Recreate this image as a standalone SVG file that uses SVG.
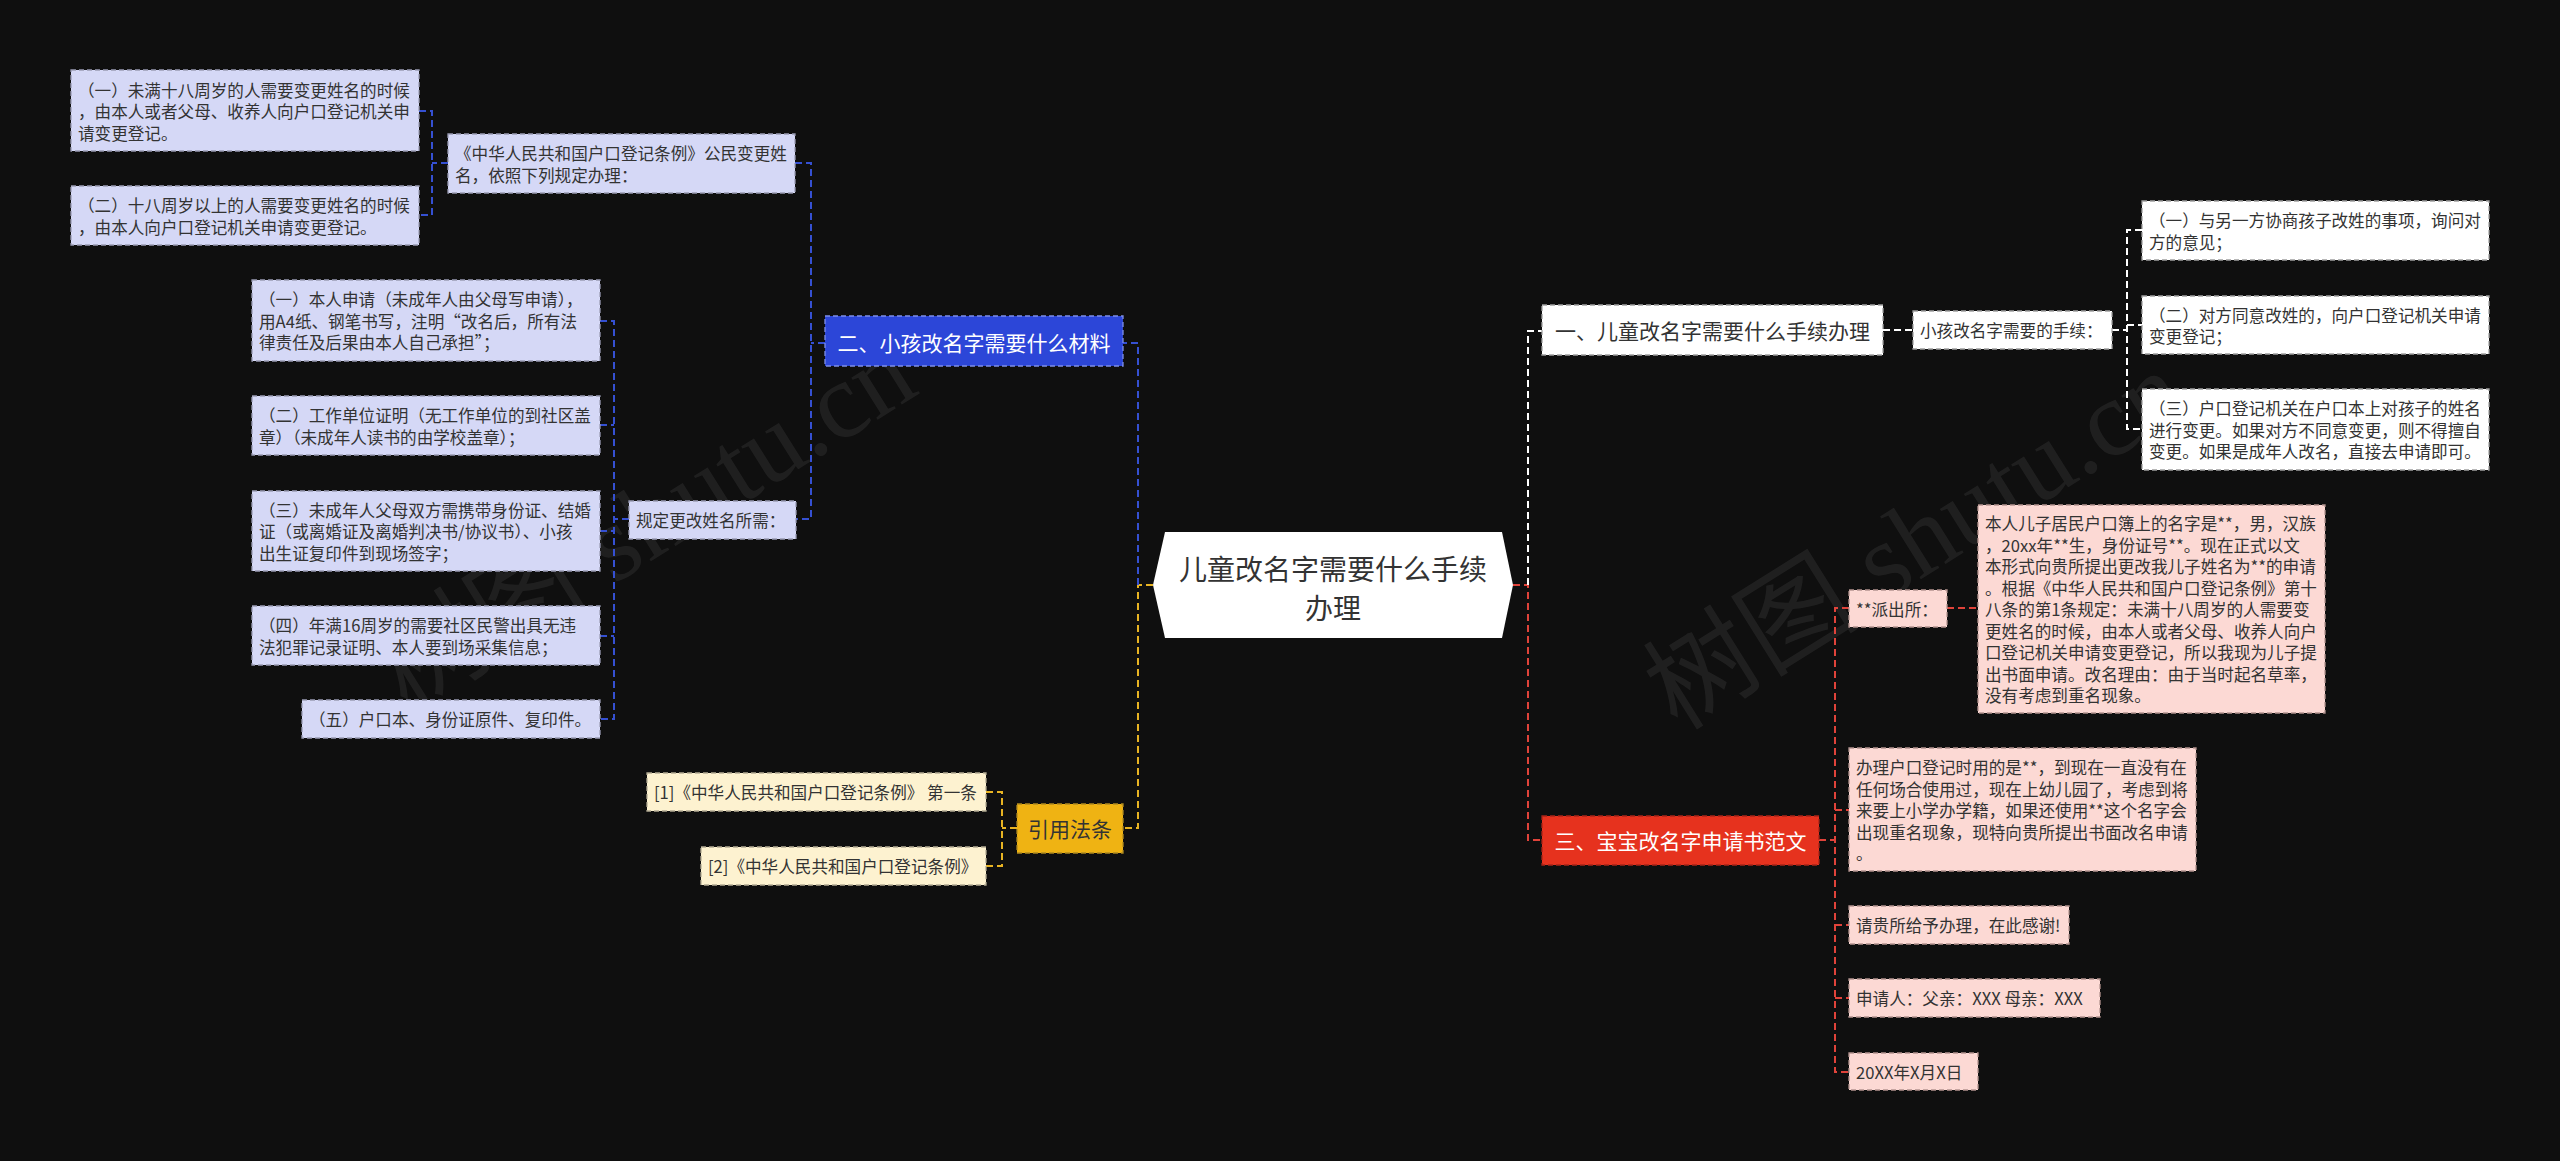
<svg xmlns="http://www.w3.org/2000/svg" width="2560" height="1161" viewBox="0 0 2560 1161">
<style>
text{font-family:"Noto Sans CJK SC","Noto Sans",sans-serif;}
.leaf{font-size:16.6px;fill:#333333;dominant-baseline:central;}
.l1{font-size:21px;dominant-baseline:central;text-anchor:middle;}
.lav{fill:#d5d8f6;stroke:#9a9cb4;stroke-width:1.3;stroke-dasharray:5 3;}
.wht{fill:#ffffff;stroke:#a0a0a0;stroke-width:1.3;stroke-dasharray:5 3;}
.pnk{fill:#fcd9d4;stroke:#b49490;stroke-width:1.3;stroke-dasharray:5 3;}
.crm{fill:#fdf2d0;stroke:#b4ac94;stroke-width:1.3;stroke-dasharray:5 3;}
.c{fill:none;stroke-width:2;stroke-dasharray:7 4;}
.cb{stroke:#3550d2;}
.cy{stroke:#e8b423;}
.cw{stroke:#ffffff;}
.cr{stroke:#e0433a;}
.wm{font-family:"Liberation Serif","Noto Sans CJK SC",serif;font-size:108px;fill:#ffffff;fill-opacity:0.07;text-anchor:middle;dominant-baseline:central;}
</style>
<rect width="2560" height="1161" fill="#0f0f0f"/>

<g id="watermarks">
<text class="wm" transform="translate(645,522) rotate(-32)">树图 shutu.cn</text>
<text class="wm" transform="translate(1915,540) rotate(-32)">树图 shutu.cn</text>
</g>

<g id="connectors">
<path class="c cy" d="M1153,585 H1138 V828 H1123"/>
<path class="c cb" d="M1138,585 V343 H1123"/>
<path class="c cb" d="M825,343 H811"/>
<path class="c cb" d="M795,163 H811 V519 H796"/>
<path class="c cb" d="M448,163 H432"/>
<path class="c cb" d="M419,111 H432 V215 H419"/>
<path class="c cb" d="M629,519 H614"/>
<path class="c cb" d="M600,321 H614 V719 H600 M600,425 H614 M600,531 H614 M600,636 H614"/>
<path class="c cy" d="M1017,828 H1002"/>
<path class="c cy" d="M986,792 H1002 V866 H986"/>
<path class="c cr" d="M1513,585 H1528 V840 H1542"/>
<path class="c cw" d="M1528,585 V331 H1542"/>
<path class="c cw" d="M1883,330 H1913"/>
<path class="c cw" d="M2112,330 H2127"/>
<path class="c cw" d="M2142,230 H2127 V429 H2142 M2127,325 H2142"/>
<path class="c cr" d="M1819,840 H1835"/>
<path class="c cr" d="M1849,608 H1835 V1072 H1849 M1835,810 H1849 M1835,925 H1849 M1835,998 H1849"/>
<path class="c cr" d="M1947,608 H1978"/>
</g>

<g id="root">
<polygon points="1153,585 1165,532 1502,532 1513,585 1502,638 1165,638" fill="#ffffff"/>
<text x="1333" y="568" font-size="28" fill="#333333" text-anchor="middle" dominant-baseline="central">儿童改名字需要什么手续</text>
<text x="1333" y="607" font-size="28" fill="#333333" text-anchor="middle" dominant-baseline="central">办理</text>
</g>

<g id="n-blue">
<rect x="825" y="316" width="298" height="50" fill="#2c46d8" stroke="#7d8fe8" stroke-width="1.3" stroke-dasharray="5 3"/>
<text class="l1" x="974" y="342" fill="#ffffff">二、小孩改名字需要什么材料</text>
</g>

<g id="n-law">
<rect class="lav" x="448" y="134" width="347" height="59"/>
<text class="leaf" x="455" y="153">《中华人民共和国户口登记条例》公民变更姓</text>
<text class="leaf" x="455" y="174.5">名，依照下列规定办理：</text>
</g>

<g id="n-law1">
<rect class="lav" x="71" y="70" width="348" height="81"/>
<text class="leaf" x="78" y="89.5">（一）未满十八周岁的人需要变更姓名的时候</text>
<text class="leaf" x="78" y="111">，由本人或者父母、收养人向户口登记机关申</text>
<text class="leaf" x="78" y="132.5">请变更登记。</text>
</g>

<g id="n-law2">
<rect class="lav" x="71" y="186" width="348" height="59"/>
<text class="leaf" x="78" y="205">（二）十八周岁以上的人需要变更姓名的时候</text>
<text class="leaf" x="78" y="226.5">，由本人向户口登记机关申请变更登记。</text>
</g>

<g id="n-req">
<rect class="lav" x="629" y="501" width="167" height="38"/>
<text class="leaf" x="636" y="520">规定更改姓名所需：</text>
</g>

<g id="n-req1">
<rect class="lav" x="252" y="280" width="348" height="81"/>
<text class="leaf" x="259" y="299">（一）本人申请（未成年人由父母写申请），</text>
<text class="leaf" x="259" y="320.5">用A4纸、钢笔书写，注明“改名后，所有法</text>
<text class="leaf" x="259" y="342">律责任及后果由本人自己承担”；</text>
</g>

<g id="n-req2">
<rect class="lav" x="252" y="396" width="348" height="59"/>
<text class="leaf" x="259" y="415">（二）工作单位证明（无工作单位的到社区盖</text>
<text class="leaf" x="259" y="436.5">章）（未成年人读书的由学校盖章）；</text>
</g>

<g id="n-req3">
<rect class="lav" x="252" y="491" width="348" height="80"/>
<text class="leaf" x="259" y="509.5">（三）未成年人父母双方需携带身份证、结婚</text>
<text class="leaf" x="259" y="531">证（或离婚证及离婚判决书/协议书）、小孩</text>
<text class="leaf" x="259" y="552.5">出生证复印件到现场签字；</text>
</g>

<g id="n-req4">
<rect class="lav" x="252" y="606" width="348" height="59"/>
<text class="leaf" x="259" y="625">（四）年满16周岁的需要社区民警出具无违</text>
<text class="leaf" x="259" y="646.5">法犯罪记录证明、本人要到场采集信息；</text>
</g>

<g id="n-req5">
<rect class="lav" x="302" y="700" width="298" height="38"/>
<text class="leaf" x="309" y="719">（五）户口本、身份证原件、复印件。</text>
</g>

<g id="n-cite">
<rect x="1017" y="804" width="106" height="49" fill="#efb313" stroke="#b08a20" stroke-width="1.3" stroke-dasharray="5 3"/>
<text class="l1" x="1070" y="828" fill="#333333">引用法条</text>
</g>

<g id="n-cite1">
<rect class="crm" x="647" y="773" width="339" height="38"/>
<text class="leaf" x="654" y="792">[1]《中华人民共和国户口登记条例》 第一条</text>
</g>

<g id="n-cite2">
<rect class="crm" x="701" y="847" width="285" height="38"/>
<text class="leaf" x="708" y="866">[2]《中华人民共和国户口登记条例》</text>
</g>

<g id="n-one">
<rect class="wht" x="1542" y="305" width="341" height="50"/>
<text class="l1" x="1712.5" y="330" fill="#333333">一、儿童改名字需要什么手续办理</text>
</g>

<g id="n-steps">
<rect class="wht" x="1913" y="311" width="199" height="38"/>
<text class="leaf" x="1920" y="330">小孩改名字需要的手续：</text>
</g>

<g id="n-step1">
<rect class="wht" x="2142" y="201" width="347" height="59"/>
<text class="leaf" x="2149" y="220">（一）与另一方协商孩子改姓的事项，询问对</text>
<text class="leaf" x="2149" y="241.5">方的意见；</text>
</g>

<g id="n-step2">
<rect class="wht" x="2142" y="296" width="347" height="58"/>
<text class="leaf" x="2149" y="314.5">（二）对方同意改姓的，向户口登记机关申请</text>
<text class="leaf" x="2149" y="336">变更登记；</text>
</g>

<g id="n-step3">
<rect class="wht" x="2142" y="389" width="347" height="81"/>
<text class="leaf" x="2149" y="408">（三）户口登记机关在户口本上对孩子的姓名</text>
<text class="leaf" x="2149" y="429.5">进行变更。如果对方不同意变更，则不得擅自</text>
<text class="leaf" x="2149" y="451">变更。如果是成年人改名，直接去申请即可。</text>
</g>

<g id="n-three">
<rect x="1542" y="816" width="277" height="49" fill="#e6321e" stroke="#a82418" stroke-width="1.3" stroke-dasharray="5 3"/>
<text class="l1" x="1680.5" y="840" fill="#ffffff">三、宝宝改名字申请书范文</text>
</g>

<g id="n-pcs">
<rect class="pnk" x="1849" y="590" width="98" height="37"/>
<text class="leaf" x="1856" y="608.5">**派出所：</text>
</g>

<g id="n-p1">
<rect class="pnk" x="1978" y="505" width="347" height="208"/>
<text class="leaf" x="1985" y="523">本人儿子居民户口簿上的名字是**，男，汉族</text>
<text class="leaf" x="1985" y="544.5">，20xx年**生，身份证号**。现在正式以文</text>
<text class="leaf" x="1985" y="566">本形式向贵所提出更改我儿子姓名为**的申请</text>
<text class="leaf" x="1985" y="587.5">。根据《中华人民共和国户口登记条例》第十</text>
<text class="leaf" x="1985" y="609">八条的第1条规定：未满十八周岁的人需要变</text>
<text class="leaf" x="1985" y="630.5">更姓名的时候，由本人或者父母、收养人向户</text>
<text class="leaf" x="1985" y="652">口登记机关申请变更登记，所以我现为儿子提</text>
<text class="leaf" x="1985" y="673.5">出书面申请。改名理由：由于当时起名草率，</text>
<text class="leaf" x="1985" y="695">没有考虑到重名现象。</text>
</g>

<g id="n-p2">
<rect class="pnk" x="1849" y="748" width="347" height="123"/>
<text class="leaf" x="1856" y="767">办理户口登记时用的是**，到现在一直没有在</text>
<text class="leaf" x="1856" y="788.5">任何场合使用过，现在上幼儿园了，考虑到将</text>
<text class="leaf" x="1856" y="810">来要上小学办学籍，如果还使用**这个名字会</text>
<text class="leaf" x="1856" y="831.5">出现重名现象，现特向贵所提出书面改名申请</text>
<text class="leaf" x="1856" y="853">。</text>
</g>

<g id="n-p3">
<rect class="pnk" x="1849" y="906" width="220" height="38"/>
<text class="leaf" x="1856" y="925">请贵所给予办理，在此感谢!</text>
</g>

<g id="n-p4">
<rect class="pnk" x="1849" y="979" width="251" height="38"/>
<text class="leaf" x="1856" y="998">申请人：父亲：XXX 母亲：XXX</text>
</g>

<g id="n-p5">
<rect class="pnk" x="1849" y="1053" width="129" height="37"/>
<text class="leaf" x="1856" y="1071.5">20XX年X月X日</text>
</g>
</svg>
